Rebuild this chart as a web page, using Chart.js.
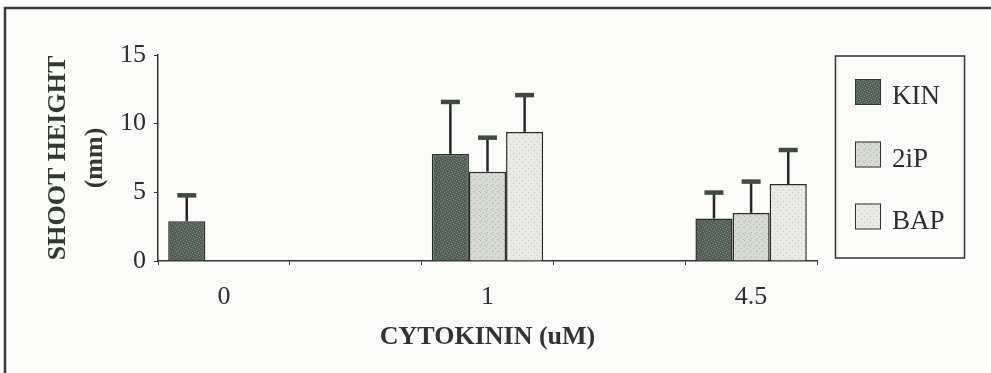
<!DOCTYPE html>
<html>
<head>
<meta charset="utf-8">
<script src="https://cdn.jsdelivr.net/npm/chart.js@4.4.1/dist/chart.umd.min.js"></script>
<style>
  html, body { margin: 0; padding: 0; background: #fbfbf9; }
  #wrap { width: 991px; height: 373px; }
</style>
</head>
<body>
<div id="wrap"><canvas id="shootChart" width="991" height="373"></canvas></div>
<script>
// data (shoot height, mm)
const categories = ['0', '1', '4.5'];
const seriesNames = ['KIN', '2iP', 'BAP'];
const kinValues = [2.9, 7.8, 3.1];
const twoIpValues = [null, 6.5, 3.5];
const bapValues = [null, 9.4, 5.6];
// upper error bars (SD)
const kinErr = [1.9, 3.8, 1.9];
const twoIpErr = [0, 2.5, 2.3];
const bapErr = [0, 2.7, 2.5];
const yTicks = [0, 5, 10, 15];

// original axis has an empty slot between each group
function spread(arr, blank) {
    const out = [];
    arr.forEach((v, i) => {
        if (i > 0) out.push(blank);
        out.push(v);
    });
    return out;
}

// speckled fills like the printed bars
function makePattern(base, dot, dots) {
    const c = document.createElement('canvas');
    c.width = 6; c.height = 6;
    const g = c.getContext('2d');
    g.fillStyle = base;
    g.fillRect(0, 0, 6, 6);
    g.fillStyle = dot;
    dots.forEach(d => g.fillRect(d[0], d[1], 1, 1));
    return g.createPattern(c, 'repeat');
}
const ctx = document.getElementById('shootChart').getContext('2d');
const fills = [
    makePattern('#515e55', '#7d8a80', [[0, 0], [3, 1], [1, 3], [4, 4], [5, 2], [2, 5]]),
    makePattern('#d6dad3', '#aeb4ab', [[0, 0], [3, 2], [1, 4], [5, 5]]),
    makePattern('#e9e9e6', '#c4c4c0', [[0, 0], [3, 3]])
];

const valueSets = [kinValues, twoIpValues, bapValues];
const errSets = [kinErr, twoIpErr, bapErr];

const frameAndBg = {
    id: 'frameAndBg',
    beforeDraw(chart) {
        const c = chart.ctx;
        c.save();
        c.fillStyle = '#fbfbf9';
        c.fillRect(0, 0, chart.width, chart.height);
        c.strokeStyle = '#3a3a3a';
        c.lineWidth = 2.5;
        c.beginPath();
        c.moveTo(5, 373);
        c.lineTo(5, 8);
        c.lineTo(991, 8);
        c.stroke();
        c.restore();
    }
};

const errorBars = {
    id: 'errorBars',
    afterDatasetsDraw(chart) {
        const c = chart.ctx;
        const yScale = chart.scales.y;
        c.save();
        chart.data.datasets.forEach((ds, di) => {
            const meta = chart.getDatasetMeta(di);
            meta.data.forEach((bar, i) => {
                const v = ds.data[i];
                const e = ds.errors[i];
                if (v == null || !e) return;
                const yTop = yScale.getPixelForValue(v + e);
                c.strokeStyle = '#262626';
                c.lineWidth = 2.5;
                c.beginPath();
                c.moveTo(bar.x, bar.y);
                c.lineTo(bar.x, yTop);
                c.stroke();
                c.fillStyle = '#3d4b42';
                c.fillRect(bar.x - 9.5, yTop - 2, 19, 4.5);
            });
        });
        c.restore();
    }
};

const boxLegend = {
    id: 'boxLegend',
    afterDraw(chart) {
        const c = chart.ctx;
        c.save();
        c.strokeStyle = '#333';
        c.lineWidth = 1.5;
        c.strokeRect(835.5, 56, 129, 202);
        const rowY = [92, 154.5, 216.5];
        c.font = '27px "Liberation Serif"';
        c.textBaseline = 'alphabetic';
        c.textAlign = 'left';
        chart.data.datasets.forEach((ds, i) => {
            c.fillStyle = ds.backgroundColor;
            c.fillRect(855, rowY[i] - 13, 26, 26);
            c.strokeStyle = '#333';
            c.lineWidth = 1;
            c.strokeRect(855.5, rowY[i] - 12.5, 25, 25);
            c.fillStyle = '#2e2e2e';
            c.fillText(ds.label, 892, rowY[i] + 12);
        });
        c.restore();
    }
};

new Chart(ctx, {
    type: 'bar',
    data: {
        labels: spread(categories, ''),
        datasets: seriesNames.map((name, i) => ({
            label: name,
            data: spread(valueSets[i], null),
            errors: spread(errSets[i], 0),
            backgroundColor: fills[i],
            borderColor: '#2a2a2a',
            borderWidth: 1.5,
            categoryPercentage: 0.845,
            barPercentage: 1
        }))
    },
    options: {
        responsive: false,
        animation: false,
        layout: { padding: { left: 20, top: 55, right: 174, bottom: 16 } },
        plugins: {
            legend: { display: false },
            tooltip: { enabled: false }
        },
        scales: {
            x: {
                afterFit(scale) { scale.height = 96; },
                border: { display: true, color: '#333', width: 1.5 },
                grid: { drawOnChartArea: false, color: '#333', tickLength: 4, offset: true },
                ticks: {
                    color: '#2e2e2e',
                    padding: 17,
                    font: { family: 'Liberation Serif', size: 26 },
                    maxRotation: 0,
                    autoSkip: false
                },
                title: {
                    display: true,
                    text: 'CYTOKININ (uM)',
                    color: '#333',
                    padding: { top: 0, bottom: 4 },
                    font: { family: 'Liberation Serif', size: 26, weight: 'bold', lineHeight: 1.2 }
                }
            },
            y: {
                min: 0,
                max: 15,
                afterFit(scale) { scale.width = 138; },
                afterBuildTicks(scale) { scale.ticks = yTicks.map(v => ({ value: v })); },
                border: { display: true, color: '#333', width: 1.5 },
                grid: { drawOnChartArea: false, color: '#333', tickLength: 4 },
                ticks: {
                    color: '#2e2e2e',
                    padding: 8,
                    font: { family: 'Liberation Serif', size: 26 }
                },
                title: {
                    display: true,
                    text: ['SHOOT HEIGHT', '(mm)'],
                    color: '#303a33',
                    padding: { top: 20, bottom: 0 },
                    font: { family: 'Liberation Serif', size: 26, weight: 'bold', lineHeight: 1.42 }
                }
            }
        }
    },
    plugins: [frameAndBg, errorBars, boxLegend]
});
</script>
</body>
</html>
